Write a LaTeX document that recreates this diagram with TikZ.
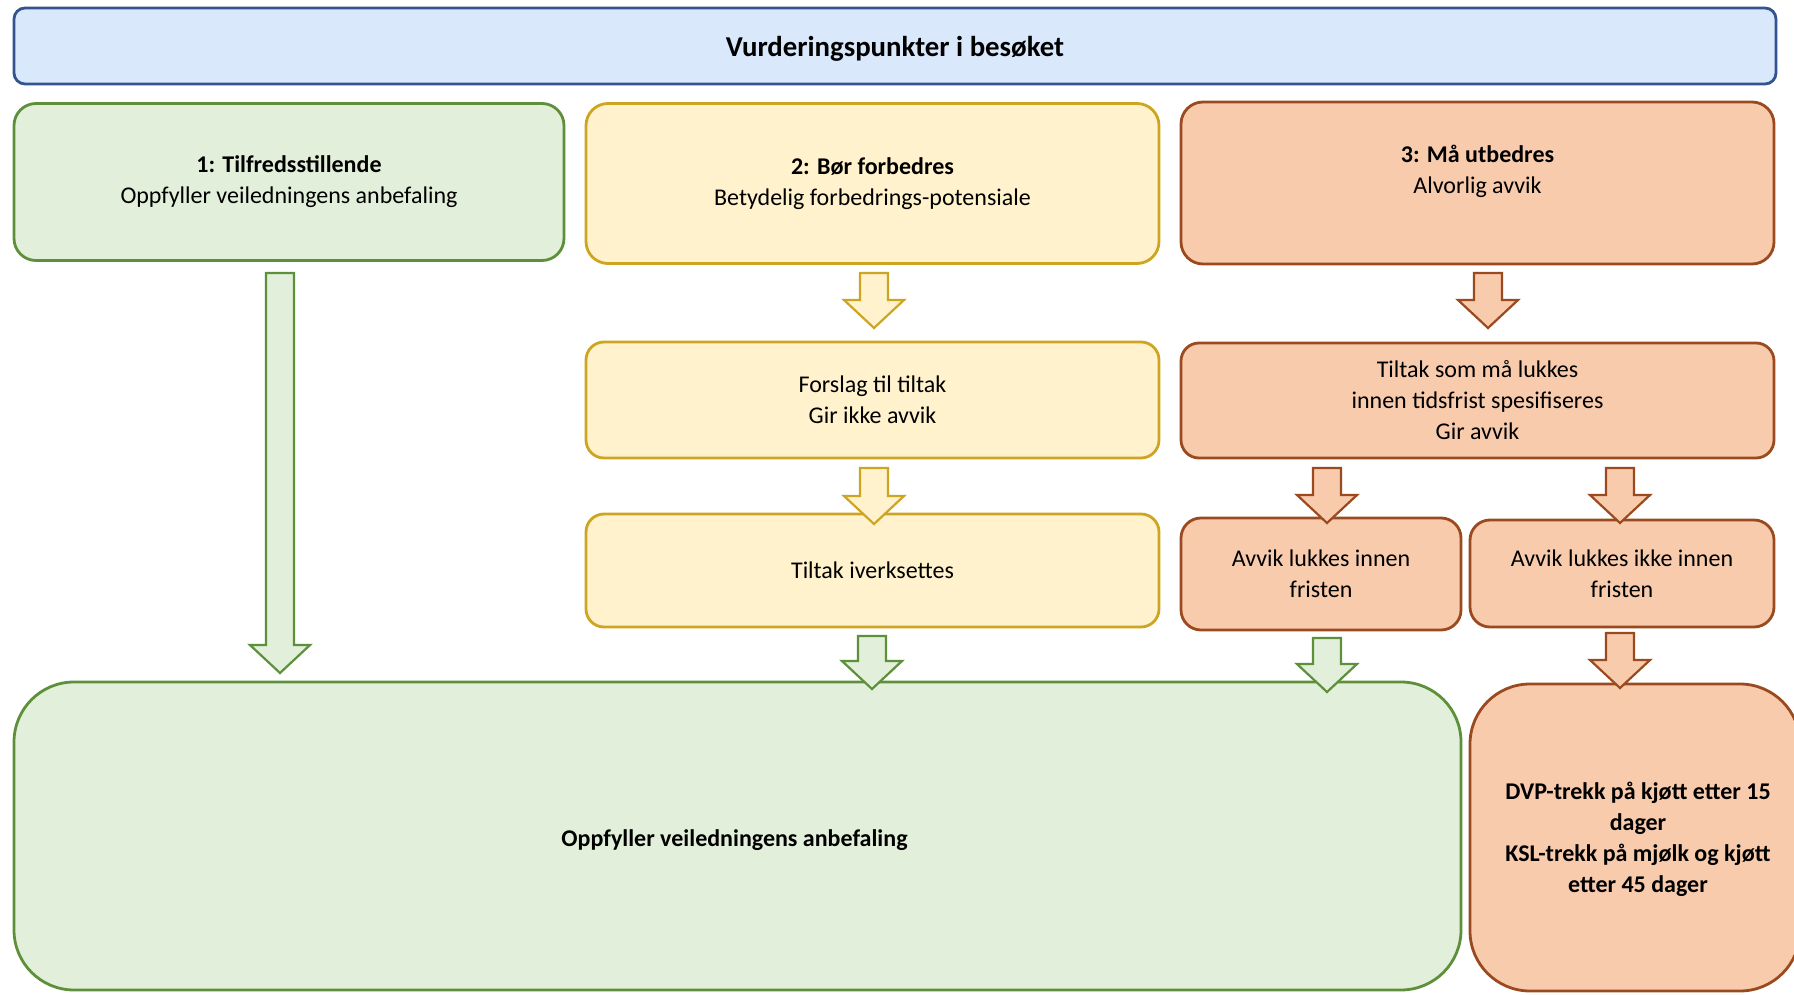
\documentclass[tikz,border=0pt]{standalone}
\usepackage{fontspec}
\setmainfont{Carlito}
\usetikzlibrary{calc}
\definecolor{bfill}{HTML}{DAE8FC}
\definecolor{bdraw}{HTML}{34548F}
\definecolor{gfill}{HTML}{E2EFDA}
\definecolor{gdraw}{HTML}{5E8F3A}
\definecolor{yfill}{HTML}{FFF2CC}
\definecolor{ydraw}{HTML}{CDA522}
\definecolor{ofill}{HTML}{F8CBAD}
\definecolor{odraw}{HTML}{9A4A1E}
\newcommand\barrow[4]{%
  \draw[#1] (#2-14,#3) -- (#2+14,#3) -- (#2+14,#4-28) -- (#2+30,#4-28) -- (#2,#4) -- (#2-30,#4-28) -- (#2-14,#4-28) -- cycle;}
\begin{document}
\begin{tikzpicture}[x=0.5pt,y=-0.5pt,
  every node/.style={font=\fontsize{12}{15.5}\selectfont},
  box/.style={rounded corners=11pt, line width=1.4pt, align=center, inner sep=0pt},
  bluebox/.style={box, fill=bfill, draw=bdraw, rounded corners=5.5pt},
  greenbox/.style={box, fill=gfill, draw=gdraw},
  yellowbox/.style={box, fill=yfill, draw=ydraw},
  orangebox/.style={box, fill=ofill, draw=odraw},
  garrow/.style={fill=gfill, draw=gdraw, line width=1.1pt, line join=miter},
  yarrow/.style={fill=yfill, draw=ydraw, line width=1.1pt, line join=miter},
  oarrow/.style={fill=ofill, draw=odraw, line width=1.1pt, line join=miter},
  lbl/.style={align=center, inner sep=0pt}
]
\useasboundingbox (0,0) rectangle (1794,995);
\fill[white] (0,0) rectangle (1794,995);

\node[bluebox, minimum width=881pt, minimum height=38pt] (top) at (895,46) {};
\node[lbl, font=\fontsize{14.4}{17}\selectfont] (toptext) at ($(top.center)+(0,3)$) {\textbf{Vurderingspunkter i besøket}};

\node[greenbox, minimum width=275pt, minimum height=78.5pt] (b1) at (289,182) {\textbf{1: Tilfredsstillende}\\Oppfyller veiledningens anbefaling};
\node[yellowbox, minimum width=286.5pt, minimum height=80pt] (b2) at (872.5,183.5) {\textbf{2: Bør forbedres}\\Betydelig forbedrings-potensiale};
\node[orangebox, minimum width=296.5pt, minimum height=81pt] (b3) at (1477.5,183) {};
\node[lbl] (t3) at ($(b3.center)+(0,-12)$) {\textbf{3: Må utbedres}\\Alvorlig avvik};

\node[yellowbox, minimum width=286.5pt, minimum height=58pt, rounded corners=9pt] (forslag) at (872.5,400) {Forslag til tiltak\\Gir ikke avvik};
\node[orangebox, minimum width=296.5pt, minimum height=57.5pt, rounded corners=9pt] (tiltak) at (1477.5,400.5) {Tiltak som må lukkes\\innen tidsfrist spesifiseres\\Gir avvik};

\node[yellowbox, minimum width=286.5pt, minimum height=56.5pt, rounded corners=9pt] (iverk) at (872.5,570.5) {Tiltak iverksettes};
\node[orangebox, minimum width=140pt, minimum height=56pt, rounded corners=10pt] (innen) at (1321,574) {Avvik lukkes innen\\fristen};
\node[orangebox, minimum width=152pt, minimum height=53.5pt, rounded corners=10pt] (ikke) at (1622,573.5) {Avvik lukkes ikke innen\\fristen};

\node[greenbox, minimum width=723.5pt, minimum height=154pt, rounded corners=30pt] (ok) at (737.5,836) {};
\node[lbl] (oktext) at ($(ok.center)+(-3,4)$) {\textbf{Oppfyller veiledningens anbefaling}};
\node[orangebox, minimum width=165pt, minimum height=153.5pt, rounded corners=30pt] (trekk) at (1635,837.5) {};
\node[lbl] (tt) at (1638,839.5) {\textbf{DVP-trekk på kjøtt etter 15}\\\textbf{dager}\\\textbf{KSL-trekk på mjølk og kjøtt}\\\textbf{etter 45 dager}};

\barrow{garrow}{280}{273}{673}
\barrow{yarrow}{874}{273}{328}
\barrow{yarrow}{874}{468}{524}
\barrow{garrow}{872}{636}{689}
\barrow{oarrow}{1488}{273}{328}
\barrow{oarrow}{1327}{468}{523}
\barrow{oarrow}{1620}{468}{523}
\barrow{garrow}{1327}{638}{692}
\barrow{oarrow}{1620}{633}{688}
\end{tikzpicture}
\end{document}
